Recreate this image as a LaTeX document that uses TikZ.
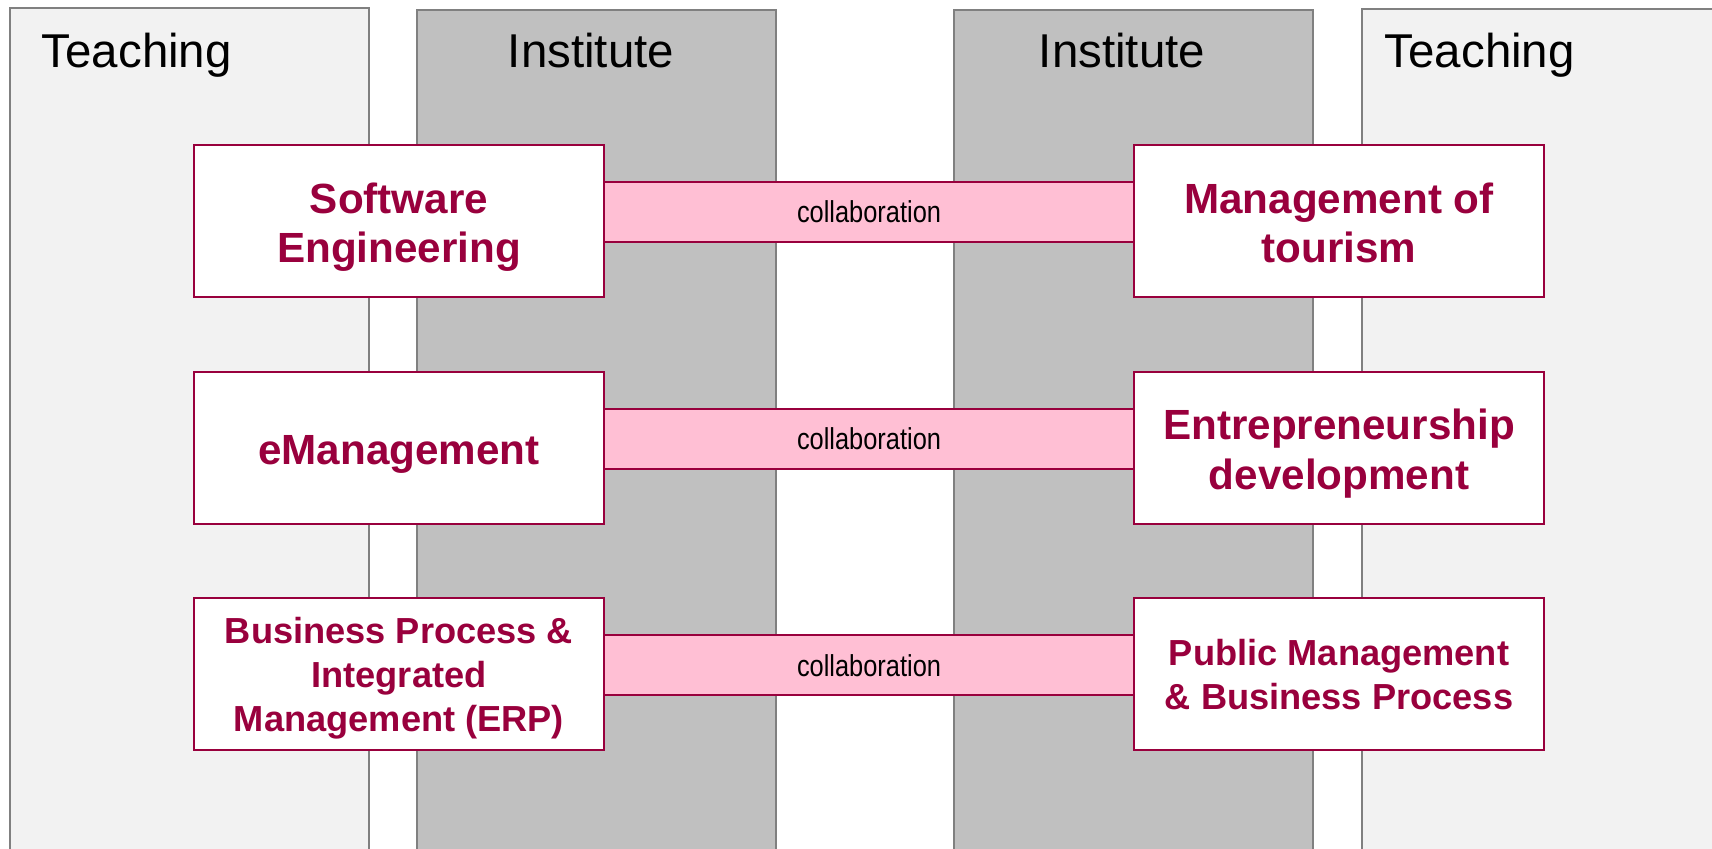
\documentclass[tikz,border=0pt]{standalone}
\usepackage{fontspec}
\setmainfont{Liberation Sans}
\newfontfamily\narrowfont[FakeStretch=0.84]{Liberation Sans}
\usepackage{xcolor}
\usetikzlibrary{positioning,calc}

\definecolor{crimson}{RGB}{153,0,61}
\definecolor{barpink}{RGB}{255,191,212}
\definecolor{teachgray}{RGB}{242,242,242}
\definecolor{instgray}{RGB}{192,192,192}
\definecolor{edgegray}{RGB}{128,128,128}

% lines of a topic, set a little low in the box
\newcommand{\topiclines}[2][2pt]{\raisebox{-#1}[\height][\depth]{\begin{tabular}{@{}c@{}}#2\end{tabular}}}

\begin{document}
\begin{tikzpicture}[x=0.01cm, y=-0.01cm, node distance=2.265cm,
    edge/.style={draw=edgegray, line width=0.4pt},
    head/.style={font=\fontsize{13.5}{16}\selectfont, inner sep=0pt},
    topic/.style={draw=crimson, fill=white, line width=0.6pt, text=crimson,
        minimum width=4.1cm, minimum height=1.52cm, inner sep=2pt,
        font=\bfseries\fontsize{12}{14.2}\selectfont},
    small topic/.style={topic, font=\bfseries\fontsize{10.3}{12.4}\selectfont},
    collab/.style={draw=crimson, fill=barpink, line width=0.6pt, minimum width=5.3cm,
        minimum height=0.6cm, inner sep=0pt, font=\narrowfont\fontsize{8.6}{10}\selectfont}]

    \useasboundingbox (0,0) rectangle (1712,849);

    % columns
    \fill[teachgray] (10,8) rectangle (369,849);
    \draw[edge] (10,849) -- (10,8) -- (369,8) -- (369,849);
    \fill[instgray] (417,10) rectangle (776,849);
    \draw[edge] (417,849) -- (417,10) -- (776,10) -- (776,849);
    \fill[instgray] (954,10) rectangle (1313,849);
    \draw[edge] (954,849) -- (954,10) -- (1313,10) -- (1313,849);
    \fill[teachgray] (1362,9) rectangle (1712,849);
    \draw[edge] (1362,849) -- (1362,9) -- (1712,9);

    \node[head, anchor=base west] (teachL) at (41,68) {Teaching};
    \node[head, anchor=base] (instL) at (591,68) {Institute};
    \node[head, anchor=base] (instR) at (1122,68) {Institute};
    \node[head, anchor=base west] (teachR) at (1384,68) {Teaching};

    % topics
    \node[topic] (swe) at (399,221) {\topiclines{Software\\Engineering}};
    \node[topic, below of=swe] (emg) {\topiclines{eManagement}};
    \node[small topic, below of=emg] (bpm) {\topiclines[1.3pt]{Business Process \&\\Integrated\\Management (ERP)}};
    \node[topic, right of=swe, node distance=9.395cm] (tour) {\topiclines{Management of\\tourism}};
    \node[topic, right of=emg, node distance=9.395cm] (entr) {\topiclines{Entrepreneurship\\development}};
    \node[small topic, right of=bpm, node distance=9.395cm] (pub) {\topiclines[1.3pt]{Public Management\\\& Business Process}};

    % collaboration bars
    \node[collab, yshift=0.09cm] (col1) at ($(swe.east)!0.5!(tour.west)$) {collaboration};
    \node[collab, yshift=0.09cm] (col2) at ($(emg.east)!0.5!(entr.west)$) {collaboration};
    \node[collab, yshift=0.09cm] (col3) at ($(bpm.east)!0.5!(pub.west)$) {collaboration};

\end{tikzpicture}
\end{document}
